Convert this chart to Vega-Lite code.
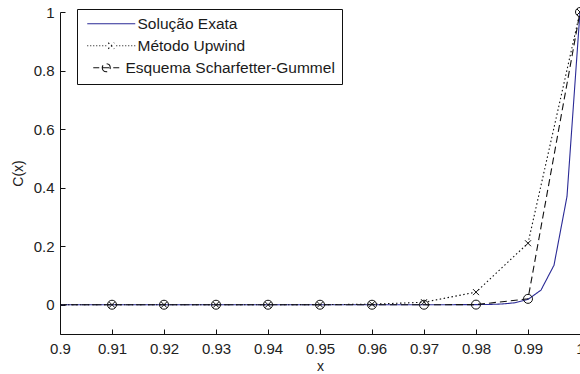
{
  "$schema": "https://vega.github.io/schema/vega-lite/v6.json",
  "width": 520,
  "height": 322,
  "autosize": {"type": "none"},
  "padding": {"left": 60, "top": 12, "right": 0, "bottom": 40},
  "background": "#ffffff",
  "data": {
    "values": [
      {"serie": "Solução Exata", "x": 0.9, "C": 0},
      {"serie": "Solução Exata", "x": 0.91, "C": 0},
      {"serie": "Solução Exata", "x": 0.92, "C": 0},
      {"serie": "Solução Exata", "x": 0.93, "C": 0},
      {"serie": "Solução Exata", "x": 0.94, "C": 0},
      {"serie": "Solução Exata", "x": 0.95, "C": 0},
      {"serie": "Solução Exata", "x": 0.96, "C": 0},
      {"serie": "Solução Exata", "x": 0.97, "C": 0},
      {"serie": "Solução Exata", "x": 0.98, "C": 0.0003},
      {"serie": "Solução Exata", "x": 0.9825, "C": 0.0009},
      {"serie": "Solução Exata", "x": 0.985, "C": 0.0025},
      {"serie": "Solução Exata", "x": 0.9875, "C": 0.0067},
      {"serie": "Solução Exata", "x": 0.99, "C": 0.018},
      {"serie": "Solução Exata", "x": 0.9925, "C": 0.05},
      {"serie": "Solução Exata", "x": 0.995, "C": 0.135},
      {"serie": "Solução Exata", "x": 0.9975, "C": 0.37},
      {"serie": "Solução Exata", "x": 1.0, "C": 1},
      {"serie": "Método Upwind", "x": 0.9, "C": 0},
      {"serie": "Método Upwind", "x": 0.91, "C": 0},
      {"serie": "Método Upwind", "x": 0.92, "C": 0},
      {"serie": "Método Upwind", "x": 0.93, "C": 0},
      {"serie": "Método Upwind", "x": 0.94, "C": 0},
      {"serie": "Método Upwind", "x": 0.95, "C": 0.0003},
      {"serie": "Método Upwind", "x": 0.96, "C": 0.0017},
      {"serie": "Método Upwind", "x": 0.97, "C": 0.0086},
      {"serie": "Método Upwind", "x": 0.98, "C": 0.043},
      {"serie": "Método Upwind", "x": 0.99, "C": 0.21},
      {"serie": "Método Upwind", "x": 1.0, "C": 1},
      {"serie": "Esquema Scharfetter-Gummel", "x": 0.9, "C": 0},
      {"serie": "Esquema Scharfetter-Gummel", "x": 0.91, "C": 0},
      {"serie": "Esquema Scharfetter-Gummel", "x": 0.92, "C": 0},
      {"serie": "Esquema Scharfetter-Gummel", "x": 0.93, "C": 0},
      {"serie": "Esquema Scharfetter-Gummel", "x": 0.94, "C": 0},
      {"serie": "Esquema Scharfetter-Gummel", "x": 0.95, "C": 0},
      {"serie": "Esquema Scharfetter-Gummel", "x": 0.96, "C": 0},
      {"serie": "Esquema Scharfetter-Gummel", "x": 0.97, "C": 0},
      {"serie": "Esquema Scharfetter-Gummel", "x": 0.98, "C": 0.0004},
      {"serie": "Esquema Scharfetter-Gummel", "x": 0.99, "C": 0.02},
      {"serie": "Esquema Scharfetter-Gummel", "x": 1.0, "C": 1}
    ]
  },
  "config": {
    "view": {"stroke": null},
    "font": "Liberation Sans",
    "axis": {
      "grid": false,
      "domainColor": "#111111",
      "domainWidth": 1,
      "tickColor": "#111111",
      "tickWidth": 1,
      "tickSize": -5,
      "labelFont": "Liberation Sans",
      "labelFontSize": 15,
      "labelColor": "#222222",
      "labelFlush": false,
      "labelOverlap": false,
      "titleFont": "Liberation Sans",
      "titleFontSize": 14,
      "titleFontWeight": "normal",
      "titleColor": "#222222"
    }
  },
  "layer": [
    {
      "mark": {"type": "line", "strokeWidth": 1.1},
      "encoding": {
        "x": {
          "field": "x",
          "type": "quantitative",
          "scale": {"domain": [0.9, 1.0], "nice": false, "zero": false},
          "axis": {
            "title": "x",
            "values": [0.9, 0.91, 0.92, 0.93, 0.94, 0.95, 0.96, 0.97, 0.98, 0.99, 1.0],
            "format": ".2~f",
            "labelPadding": 12,
            "titleY": 32,
            "titleBaseline": "middle"
          }
        },
        "y": {
          "field": "C",
          "type": "quantitative",
          "scale": {"domain": [-0.1, 1.0], "nice": false, "zero": false},
          "axis": {
            "title": "C(x)",
            "values": [0, 0.2, 0.4, 0.6, 0.8, 1.0],
            "format": ".1~f",
            "labelPadding": 11,
            "titleAngle": -90,
            "titleX": -42,
            "titleY": 161,
            "titleBaseline": "middle",
            "titleAlign": "center"
          }
        },
        "color": {
          "field": "serie",
          "type": "nominal",
          "scale": {
            "domain": ["Solução Exata", "Método Upwind", "Esquema Scharfetter-Gummel"],
            "range": ["#2a2a96", "#111111", "#111111"]
          },
          "legend": {
            "title": null,
            "orient": "none",
            "legendX": 17,
            "legendY": -3,
            "strokeColor": "#111111",
            "fillColor": "#ffffff",
            "padding": 7,
            "symbolOffset": 19.5,
            "labelOffset": 18.5,
            "rowPadding": 5,
            "symbolSize": 100,
            "symbolStrokeWidth": 1,
            "labelFont": "Liberation Sans",
            "labelFontSize": 15.5,
            "labelColor": "#1a1a1a",
            "labelLimit": 400,
            "encode": {
              "symbols": {
                "update": {
                  "shape": {
                    "signal": "datum.value === 'Solução Exata' ? 'M-4.8,0H4.8' : datum.value === 'Método Upwind' ? 'M-4.8,0h0.2M-4.2,0h0.2M-3.6,0h0.2M-3,0h0.2M-2.4,0h0.2M-1.8,0h0.2M-1.2,0h0.2M-0.6,-0.6L0.6,0.6M-0.6,0.6L0.6,-0.6M1,0h0.2M1.6,0h0.2M2.2,0h0.2M2.8,0h0.2M3.4,0h0.2M4,0h0.2M4.6,0h0.2' : 'M-3.6,0H-2.4M-1.8,0H-0.2M-1.8,0A0.8,0.8 0 1,0 -0.2,0A0.8,0.8 0 1,0 -1.8,0M0.4,0H1.6'"
                  },
                  "stroke": {
                    "signal": "datum.value === 'Solução Exata' ? '#2a2a96' : '#111111'"
                  },
                  "strokeOpacity": {"value": 1},
                  "size": {"value": 100},
                  "fill": {"value": "transparent"},
                  "strokeDash": {"value": [1, 0]},
                  "strokeWidth": {"value": 1.1}
                }
              },
              "labels": {
                "update": {
                  "dx": {"signal": "datum.value === 'Esquema Scharfetter-Gummel' ? -12 : 0"}
                }
              }
            }
          }
        },
        "strokeDash": {
          "field": "serie",
          "type": "nominal",
          "scale": {
            "domain": ["Solução Exata", "Método Upwind", "Esquema Scharfetter-Gummel"],
            "range": [[1, 0], [1.5, 2.5], [7, 4]]
          },
          "legend": null
        }
      }
    },
    {
      "transform": [
        {"filter": "datum.serie !== 'Solução Exata' && datum.x > 0.905"}
      ],
      "mark": {"type": "point", "filled": false, "color": "#111111", "strokeWidth": 1, "opacity": 1},
      "encoding": {
        "x": {"field": "x", "type": "quantitative"},
        "y": {"field": "C", "type": "quantitative"},
        "shape": {
          "field": "serie",
          "type": "nominal",
          "scale": {
            "domain": ["Método Upwind", "Esquema Scharfetter-Gummel"],
            "range": ["M-1,-1L1,1M-1,1L1,-1", "circle"]
          },
          "legend": null
        },
        "size": {
          "field": "serie",
          "type": "nominal",
          "scale": {
            "domain": ["Método Upwind", "Esquema Scharfetter-Gummel"],
            "range": [36, 81]
          },
          "legend": null
        }
      }
    }
  ]
}
